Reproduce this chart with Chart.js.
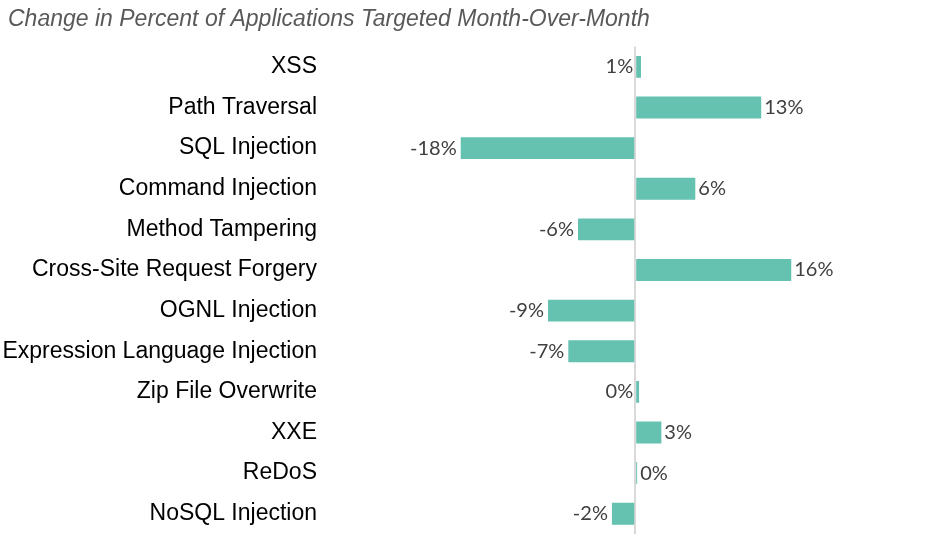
<!DOCTYPE html>
<html>
<head>
<meta charset="utf-8">
<script src="https://cdn.jsdelivr.net/npm/chart.js@4/dist/chart.umd.min.js"></script>
<style>
  html, body { margin: 0; padding: 0; background: #ffffff; }
  #wrap { width: 931px; height: 543px; position: relative; }
</style>
</head>
<body>
<div id="wrap"><canvas id="c"></canvas></div>
<script>
const categories = [
  "XSS", "Path Traversal", "SQL Injection", "Command Injection", "Method Tampering",
  "Cross-Site Request Forgery", "OGNL Injection", "Expression Language Injection",
  "Zip File Overwrite", "XXE", "ReDoS", "NoSQL Injection"
];
const changePct = [0.6, 13.0, -18.0, 6.2, -5.9, 16.1, -9.0, -6.9, 0.4, 2.7, 0.2, -2.4];
const titleText = "Change in Percent of Applications Targeted Month-Over-Month";

// categories whose label Excel placed to the left of the zero line
const leftLabelCats = new Set(["XSS", "Zip File Overwrite"]);

const labelPlugin = {
  id: 'barLabels',
  afterLayout(chart) {
    if (chart.titleBlock) { chart.titleBlock.left = 8; }
  },
  afterDatasetsDraw(chart) {
    const ctx = chart.ctx;
    const meta = chart.getDatasetMeta(0);
    const xScale = chart.scales.x;
    const zeroX = xScale.getPixelForValue(0);
    ctx.save();
    ctx.font = '20px Lato, "Open Sans", sans-serif';
    ctx.fillStyle = '#404040';
    ctx.textBaseline = 'middle';
    meta.data.forEach((bar, i) => {
      const v = changePct[i];
      const txt = Math.round(v) + '%';
      const y = bar.y;
      if (leftLabelCats.has(categories[i])) {
        ctx.textAlign = 'right';
        ctx.fillText(txt, zeroX - 2, y);
      } else if (v >= 0) {
        ctx.textAlign = 'left';
        ctx.fillText(txt, bar.x + 3, y);
      } else {
        ctx.textAlign = 'right';
        ctx.fillText(txt, bar.x - 4, y);
      }
    });
    ctx.restore();
  }
};

new Chart(document.getElementById('c'), {
  type: 'bar',
  data: {
    labels: categories,
    datasets: [{
      data: changePct,
      backgroundColor: '#65C1B0',
      borderWidth: 0,
      categoryPercentage: 1.0,
      barPercentage: 0.54
    }]
  },
  options: {
    indexAxis: 'y',
    responsive: true,
    maintainAspectRatio: false,
    animation: false,
    layout: { padding: { left: 0, right: 5, top: 0, bottom: 9 } },
    plugins: {
      legend: { display: false },
      tooltip: { enabled: false },
      title: {
        display: true,
        text: titleText,
        align: 'start',
        color: '#595959',
        font: { family: '"Liberation Sans", Arial, sans-serif', size: 23, style: 'italic', weight: 'normal' },
        padding: { top: 6, bottom: 13 }
      }
    },
    scales: {
      x: {
        min: -32,
        max: 30,
        afterFit: (axis) => { axis.height = 0; axis.paddingLeft = 0; axis.paddingRight = 0; },
        ticks: { display: false, stepSize: 1 },
        border: { display: false },
        grid: {
          drawTicks: false,
          lineWidth: 2,
          color: (c) => (c.tick && c.tick.value === 0) ? '#D9D9D9' : 'rgba(0,0,0,0)'
        }
      },
      y: {
        afterFit: (axis) => { axis.width = 325; axis.paddingTop = 0; axis.paddingBottom = 0; },
        ticks: {
          color: '#000000',
          padding: 8,
          font: { family: '"Liberation Sans", Arial, sans-serif', size: 23 }
        },
        border: { display: false },
        grid: { display: false, drawTicks: false }
      }
    }
  },
  plugins: [labelPlugin]
});
</script>
</body>
</html>
